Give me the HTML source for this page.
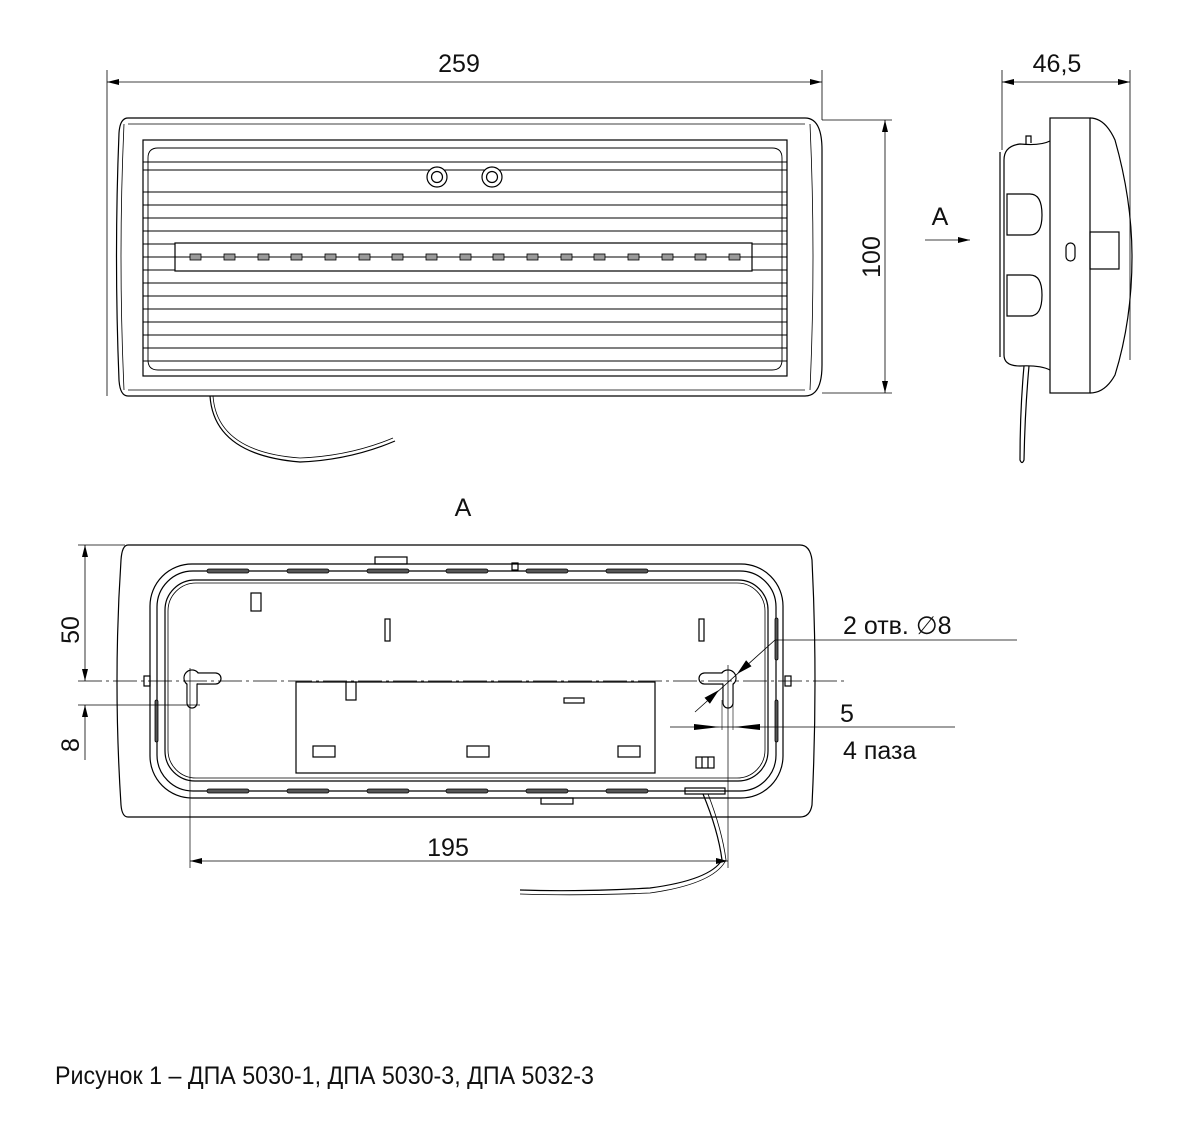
<!DOCTYPE html>
<html><head><meta charset="utf-8"><style>
html,body{margin:0;padding:0;background:#fff;}
svg{display:block}
text{font-family:"Liberation Sans","DejaVu Sans",sans-serif;fill:#111}
</style></head><body>
<svg width="1188" height="1144" viewBox="0 0 1188 1144" xmlns="http://www.w3.org/2000/svg">
<defs>
<marker id="a" viewBox="0 0 12 6" refX="12" refY="3" markerWidth="12" markerHeight="6" orient="auto-start-reverse" markerUnits="userSpaceOnUse"><path d="M0,0L12,3L0,6z" fill="#000"/></marker>
<g id="key">
<g fill="#fff" stroke="#000" stroke-width="1.2">
<circle cx="192" cy="678" r="8"/>
<rect x="192" y="673" width="29" height="11" rx="5.5"/>
<rect x="187" y="678" width="10" height="30" rx="5"/>
</g>
<g fill="#fff" stroke="none">
<circle cx="192" cy="678" r="7.3"/>
<rect x="192" y="673.7" width="28" height="9.6" rx="4.8"/>
<rect x="187.7" y="678" width="8.6" height="29.3" rx="4.3"/>
</g>
</g>
</defs>
<g fill="none" stroke="#000" stroke-width="1.2">
<!-- TOP VIEW -->
<line x1="107" y1="70" x2="107" y2="396" stroke-width="0.8"/>
<line x1="822" y1="70" x2="822" y2="120" stroke-width="0.8"/>
<line x1="107" y1="82" x2="822" y2="82" stroke-width="0.8" marker-start="url(#a)" marker-end="url(#a)"/>
<path d="M128,118 L805,118 Q822,118 822,150 L822,365 Q822,396 805,396 L128,396 Q120,396 119,380 Q114,257 119,133 Q120,118 128,118 Z"/>
<path d="M124,124 Q118,257 124,390" stroke-width="0.8"/>
<line x1="128" y1="124" x2="805" y2="124" stroke-width="0.8"/>
<line x1="128" y1="390" x2="805" y2="390" stroke-width="0.8"/>
<path d="M810,124 Q816,257 810,390" stroke-width="0.8"/>
<rect x="143" y="140" width="644" height="236"/>
<path d="M158,148 L772,148 Q782,148 782,158 L782,360 Q782,370 772,370 L158,370 Q148,370 148,360 L148,158 Q148,148 158,148 Z" stroke-width="0.9"/>
<g stroke-width="0.9">
<line x1="143" y1="162" x2="787" y2="162"/><line x1="143" y1="170" x2="787" y2="170"/>
<line x1="143" y1="192" x2="787" y2="192"/><line x1="143" y1="205" x2="787" y2="205"/>
<line x1="143" y1="218" x2="787" y2="218"/><line x1="143" y1="231" x2="787" y2="231"/>
<line x1="143" y1="244" x2="787" y2="244"/><line x1="143" y1="257" x2="787" y2="257"/>
<line x1="143" y1="270" x2="787" y2="270"/><line x1="143" y1="283" x2="787" y2="283"/>
<line x1="143" y1="296" x2="787" y2="296"/><line x1="143" y1="309" x2="787" y2="309"/>
<line x1="143" y1="322" x2="787" y2="322"/><line x1="143" y1="335" x2="787" y2="335"/>
<line x1="143" y1="348" x2="787" y2="348"/><line x1="143" y1="361" x2="787" y2="361"/>
</g>
<rect x="175" y="243" width="577" height="28" fill="#fff"/>
<line x1="175" y1="257" x2="752" y2="257" stroke-width="0.9"/>
<g fill="#999" stroke-width="0.8">
<rect x="190" y="254" width="11" height="6"/><rect x="224" y="254" width="11" height="6"/><rect x="258" y="254" width="11" height="6"/><rect x="291" y="254" width="11" height="6"/><rect x="325" y="254" width="11" height="6"/><rect x="359" y="254" width="11" height="6"/><rect x="392" y="254" width="11" height="6"/><rect x="426" y="254" width="11" height="6"/><rect x="460" y="254" width="11" height="6"/><rect x="493" y="254" width="11" height="6"/><rect x="527" y="254" width="11" height="6"/><rect x="561" y="254" width="11" height="6"/><rect x="594" y="254" width="11" height="6"/><rect x="628" y="254" width="11" height="6"/><rect x="662" y="254" width="11" height="6"/><rect x="695" y="254" width="11" height="6"/><rect x="729" y="254" width="11" height="6"/>
</g>
<circle cx="437" cy="177" r="10" fill="#fff"/><circle cx="437" cy="177" r="5.5"/>
<circle cx="492" cy="177" r="10" fill="#fff"/><circle cx="492" cy="177" r="5.5"/>
<path d="M210,396 Q214,455 300,462 Q350,460 395,441"/>
<path d="M213,396 Q217,452 300,458 Q350,456 393,438" stroke-width="0.8"/>
<!-- 100 dim -->
<line x1="822" y1="120" x2="892" y2="120" stroke-width="0.8"/>
<line x1="822" y1="393" x2="892" y2="393" stroke-width="0.8"/>
<line x1="885" y1="120" x2="885" y2="393" stroke-width="0.8" marker-start="url(#a)" marker-end="url(#a)"/>
<!-- A arrow -->
<line x1="925" y1="240" x2="970" y2="240" stroke-width="0.8" marker-end="url(#a)"/>
<!-- SIDE VIEW -->
<line x1="1002" y1="70" x2="1002" y2="150" stroke-width="0.8"/>
<line x1="1130" y1="70" x2="1130" y2="360" stroke-width="0.8"/>
<line x1="1002" y1="82" x2="1130" y2="82" stroke-width="0.8" marker-start="url(#a)" marker-end="url(#a)"/>
<rect x="1050" y="118" width="40" height="275"/>
<path d="M1090,118 Q1105,118 1115,140 Q1132,200 1132,257 Q1132,320 1115,375 Q1105,393 1090,393"/>
<path d="M1050,141 Q1040,146 1020,144 Q1004,146 1004,160 L1004,355 Q1004,366 1020,366 Q1040,365 1050,370"/>
<line x1="1000" y1="152" x2="1000" y2="357"/>
<path d="M1026,144 L1026,136 L1031,136 L1031,143"/>
<path d="M1007,194 L1030,194 Q1042,194 1042,215 Q1042,235 1030,235 L1007,235 Z"/>
<path d="M1007,275 L1030,275 Q1042,275 1042,295 Q1042,316 1030,316 L1007,316 Z"/>
<rect x="1066" y="243" width="9" height="18" rx="4.5"/>
<rect x="1090" y="232" width="29" height="37"/>
<path d="M1024,366 Q1020,410 1020,460 Q1022,465 1024,460 Q1025,410 1029,366"/>
<!-- BOTTOM VIEW -->
<path d="M128,545 L800,545 Q810,545 812,560 Q818,681 812,805 Q810,817 800,817 L128,817 Q122,817 121,805 Q113,681 121,560 Q122,545 128,545 Z"/>
<rect x="150" y="564" width="633" height="234" rx="42"/>
<rect x="157" y="571" width="619" height="220" rx="36"/>
<rect x="165" y="580" width="603" height="201" rx="30"/>
<rect x="168" y="583" width="597" height="195" rx="28" stroke-width="0.8"/>
<g fill="#555" stroke-width="0.8">
<rect x="207" y="569" width="42" height="4" rx="2"/><rect x="287" y="569" width="42" height="4" rx="2"/><rect x="367" y="569" width="42" height="4" rx="2"/><rect x="446" y="569" width="42" height="4" rx="2"/><rect x="526" y="569" width="42" height="4" rx="2"/><rect x="606" y="569" width="42" height="4" rx="2"/>
<rect x="207" y="789" width="42" height="4" rx="2"/><rect x="287" y="789" width="42" height="4" rx="2"/><rect x="367" y="789" width="42" height="4" rx="2"/><rect x="446" y="789" width="42" height="4" rx="2"/><rect x="526" y="789" width="42" height="4" rx="2"/><rect x="606" y="789" width="42" height="4" rx="2"/>
<rect x="155" y="700" width="3" height="42" rx="1.5"/><rect x="775" y="618" width="3" height="42" rx="1.5"/><rect x="775" y="700" width="3" height="42" rx="1.5"/>
</g>
<rect x="375" y="557" width="32" height="7"/>
<rect x="512" y="563" width="6" height="7"/>
<rect x="541" y="798" width="32" height="6"/>
<rect x="251" y="593" width="10" height="18"/>
<rect x="385" y="619" width="5" height="22"/>
<rect x="699" y="619" width="5" height="22"/>
<rect x="144" y="676" width="6" height="10"/>
<rect x="785" y="676" width="6" height="10"/>
<rect x="296" y="682" width="359" height="91"/>
<rect x="346" y="682" width="10" height="18"/>
<rect x="564" y="698" width="20" height="5"/>
<rect x="313" y="746" width="22" height="11"/><rect x="467" y="746" width="22" height="11"/><rect x="618" y="746" width="22" height="11"/>
<rect x="696" y="757" width="18" height="11"/><line x1="702" y1="757" x2="702" y2="768"/><line x1="708" y1="757" x2="708" y2="768"/>
<rect x="685" y="788" width="40" height="6"/>
<path d="M703,794 Q718,830 722,860 Q710,880 650,888 Q580,892 520,890"/>
<path d="M708,794 Q722,830 726,860 Q714,884 650,893 Q580,896 520,894" stroke-width="0.8"/>
</g>
<use href="#key"/>
<use href="#key" transform="translate(920,0) scale(-1,1)"/>
<g fill="none" stroke="#000">
<!-- centerline -->
<line x1="78" y1="681" x2="845" y2="681" stroke-width="0.7" stroke-dasharray="24,4,3,4"/>
<!-- dims bottom -->
<line x1="190" y1="668" x2="190" y2="868" stroke-width="0.7"/>
<line x1="728" y1="665" x2="728" y2="868" stroke-width="0.7"/>
<line x1="190" y1="861" x2="728" y2="861" stroke-width="0.8" marker-start="url(#a)" marker-end="url(#a)"/>
<line x1="78" y1="545" x2="125" y2="545" stroke-width="0.7"/>
<line x1="78" y1="705" x2="200" y2="705" stroke-width="0.7"/>
<line x1="85" y1="545" x2="85" y2="681" stroke-width="0.8" marker-start="url(#a)" marker-end="url(#a)"/>
<line x1="85" y1="760" x2="85" y2="705" stroke-width="0.8" marker-end="url(#a)"/>
<line x1="775" y1="640" x2="1017" y2="640" stroke-width="0.7"/>
<line x1="775" y1="640" x2="695" y2="712" stroke-width="0.8"/>
<path d="M737,674 L751.5,666.3 L746.1,660.3 Z M719,690 L709.9,703.7 L704.5,697.7 Z" fill="#000" stroke="none"/>
<line x1="670" y1="727" x2="955" y2="727" stroke-width="0.7"/>
<path d="M694,724 L720,727 L694,730 Z M760,724 L734,727 L760,730 Z" fill="#000" stroke="none"/>
<line x1="722" y1="700" x2="722" y2="730" stroke-width="0.6"/>
<line x1="733" y1="700" x2="733" y2="730" stroke-width="0.6"/>
</g>
<g font-size="25">
<text x="459" y="72" text-anchor="middle">259</text>
<text x="1057" y="72" text-anchor="middle">46,5</text>
<text x="0" y="0" transform="translate(880,257) rotate(-90)" text-anchor="middle">100</text>
<text x="940" y="225" text-anchor="middle">A</text>
<text x="463" y="516" text-anchor="middle">A</text>
<text x="0" y="0" transform="translate(79,630) rotate(-90)" text-anchor="middle">50</text>
<text x="0" y="0" transform="translate(79,745) rotate(-90)" text-anchor="middle">8</text>
<text x="448" y="856" text-anchor="middle">195</text>
<text x="843" y="634">2 отв. ∅8</text>
<text x="840" y="722">5</text>
<text x="843" y="759">4 паза</text>
</g>
<text x="55" y="1084" font-size="25" transform="translate(55,0) scale(0.93,1) translate(-55,0)">Рисунок 1 – ДПА 5030-1, ДПА 5030-3, ДПА 5032-3</text>
</svg>
</body></html>
